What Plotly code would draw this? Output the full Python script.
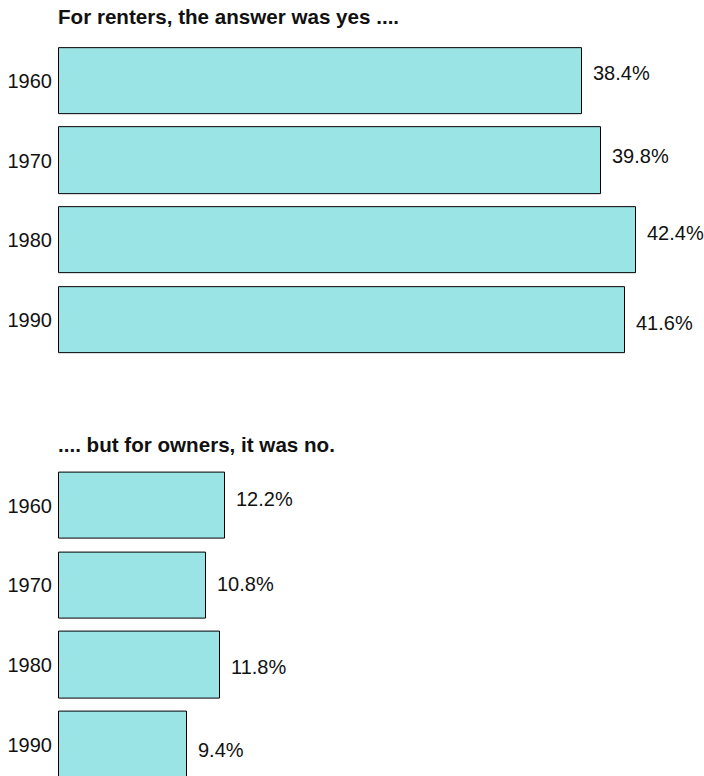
import plotly.graph_objects as go
from plotly.subplots import make_subplots

# Share of income spent on housing, by tenure and census year
years = ["1960", "1970", "1980", "1990"]
renters = [38.4, 39.8, 42.4, 41.6]
owners = [12.2, 10.8, 11.8, 9.4]

panel_titles = ["For renters, the answer was yes ....", ".... but for owners, it was no."]

# vertical nudges (px) for the value labels
renter_label_shift = [8, 5, 7, -3]
owner_label_shift = [6, 1, -2, -5]

W, H = 704, 776
FILL = "#9BE4E6"
EDGE = "#000000"
FONT = "Liberation Sans, Arial, sans-serif"

x0_px = 59          # pixel where the value 0 sits
pad_px = 3          # room so the left outline of the bars is not clipped
px_per_pct = 13.615
x_min = -pad_px / px_per_pct
x_max = (W - x0_px) / px_per_pct

fig = make_subplots(rows=2, cols=1)

for row, vals in ((1, renters), (2, owners)):
    fig.add_trace(
        go.Bar(
            x=vals,
            y=years,
            orientation="h",
            width=0.83,
            marker=dict(color=FILL, line=dict(color=EDGE, width=1)),
            hoverinfo="skip",
            showlegend=False,
        ),
        row=row,
        col=1,
    )

# axis geometry (pixel based)
top_c0, top_pitch = 81.0, 79.7
bot_c0, bot_pitch = 505.5, 79.8
top_top = top_c0 - 0.5 * top_pitch
top_bot = top_c0 + 3.5 * top_pitch
bot_top = bot_c0 - 0.5 * bot_pitch
bot_range_end = (H - bot_c0) / bot_pitch

fig.update_xaxes(
    domain=[(x0_px - pad_px) / W, 1.0],
    range=[x_min, x_max],
    visible=False,
    showgrid=False,
    zeroline=False,
)

fig.update_yaxes(
    type="category",
    categoryorder="array",
    categoryarray=years,
    showgrid=False,
    zeroline=False,
    showline=False,
    ticks="",
    ticklabelstandoff=3,
    tickfont=dict(family=FONT, size=20, color="#111111"),
)
fig.update_layout(
    yaxis=dict(domain=[1 - top_bot / H, 1 - top_top / H], range=[3.5, -0.5]),
    yaxis2=dict(domain=[0, 1 - bot_top / H], range=[bot_range_end, -0.5]),
)

annotations = []
for vals, shifts, axn in ((renters, renter_label_shift, ""), (owners, owner_label_shift, "2")):
    for i, (v, s) in enumerate(zip(vals, shifts)):
        annotations.append(
            dict(
                x=v,
                y=i,
                xref="x" + axn,
                yref="y" + axn,
                text=f"{v:.1f}%",
                showarrow=False,
                xanchor="left",
                yanchor="middle",
                xshift=9,
                yshift=s,
                font=dict(family=FONT, size=20, color="#111111"),
            )
        )

for title, ypx in zip(panel_titles, (16, 444)):
    annotations.append(
        dict(
            x=x0_px / W,
            y=1 - ypx / H,
            xref="paper",
            yref="paper",
            text=f"<b>{title}</b>",
            showarrow=False,
            xanchor="left",
            yanchor="middle",
            xshift=-3,
            font=dict(family=FONT, size=20.6, color="#111111"),
        )
    )

fig.update_layout(
    width=W,
    height=H,
    margin=dict(l=0, r=0, t=0, b=0),
    paper_bgcolor="white",
    plot_bgcolor="white",
    annotations=annotations,
    bargap=0,
)

fig.write_html("out.html")
